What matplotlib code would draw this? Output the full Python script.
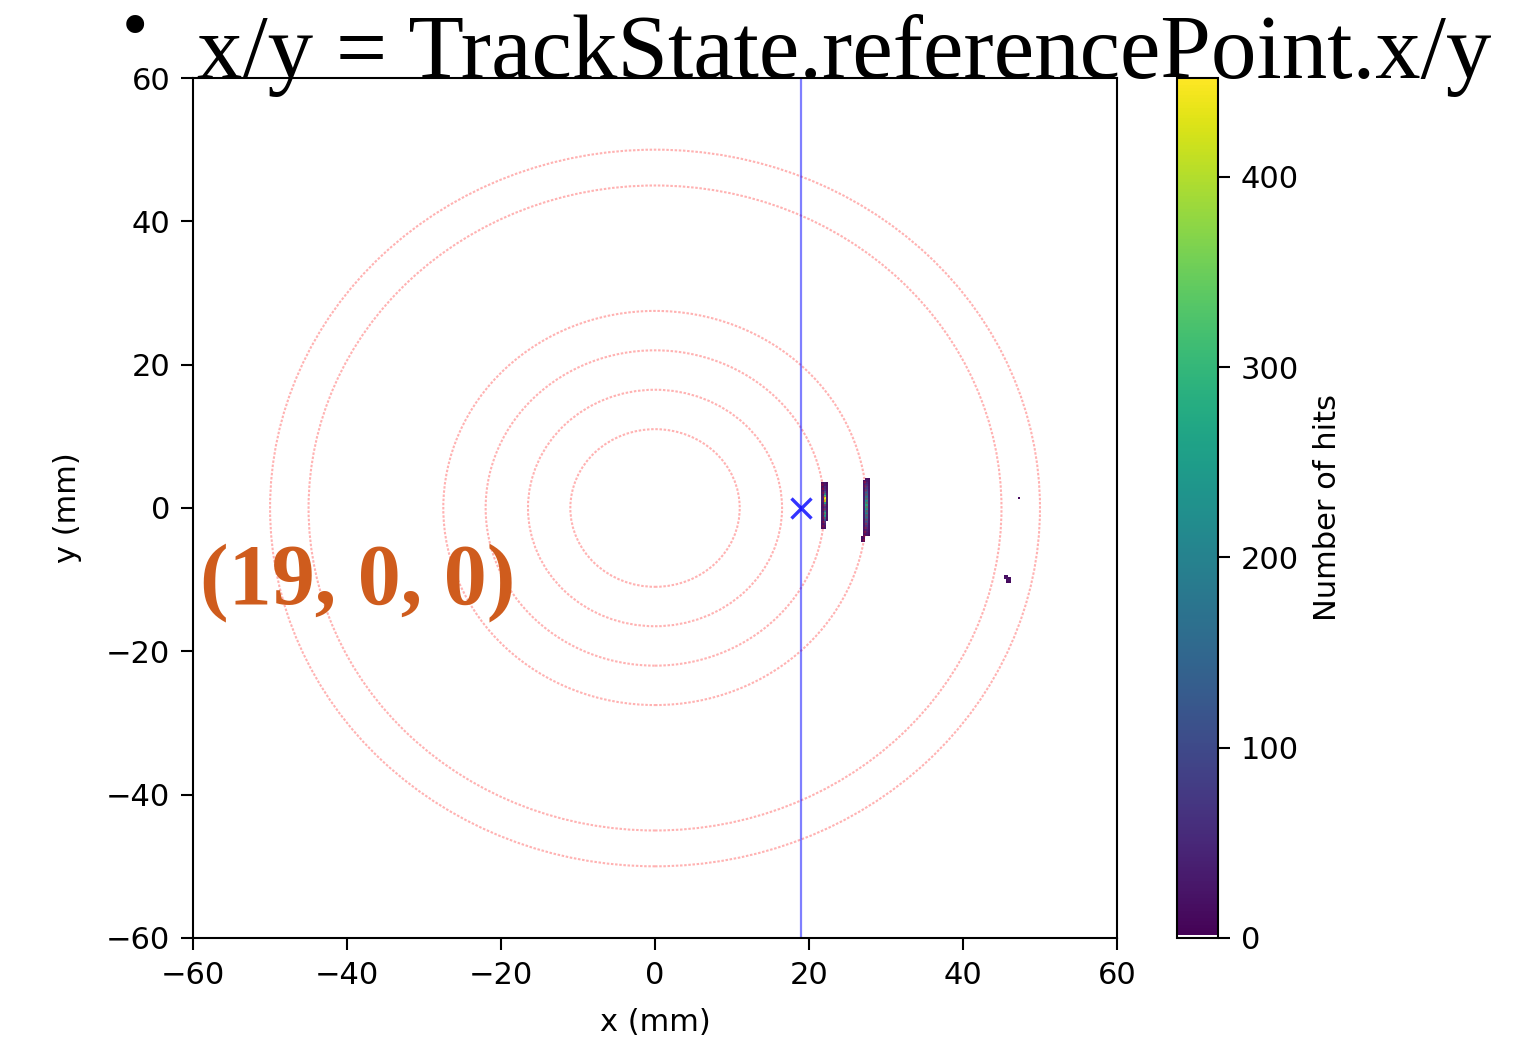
import numpy as np
import matplotlib
matplotlib.use("Agg")
import matplotlib.pyplot as plt
from matplotlib.colors import ListedColormap
from matplotlib.patches import Circle

# ---- data -----------------------------------------------------------------
# histogram binning (mm)
bin_edges = np.linspace(-60, 60, 401)

# inner cluster: column centres (mm), row centres (mm), counts [row][col]
inner_x = [21.75, 22.05, 22.35]
inner_y = [3.45, 3.15, 2.85, 2.55, 2.25, 1.95, 1.65, 1.35, 1.05, 0.75, 0.45,
           0.15, -0.15, -0.45, -0.75, -1.05, -1.35, -1.65, -1.95, -2.25,
           -2.55, -2.85]
inner_counts = [
    [15, 25, 12], [18, 30, 15], [20, 45, 18], [22, 60, 20], [25, 110, 22],
    [30, 200, 28], [35, 320, 30], [40, 452, 35], [38, 410, 32], [30, 260, 28],
    [25, 120, 22], [22, 70, 20], [25, 90, 22], [30, 160, 25], [35, 280, 30],
    [32, 240, 28], [28, 150, 25], [25, 110, 20], [22, 70, 0], [20, 40, 0],
    [18, 25, 0], [15, 18, 0],
]

# outer cluster
outer_x = [26.85, 27.15, 27.45, 27.75]
outer_y = [4.05, 3.75, 3.45, 3.15, 2.85, 2.55, 2.25, 1.95, 1.65, 1.35, 1.05,
           0.75, 0.45, 0.15, -0.15, -0.45, -0.75, -1.05, -1.35, -1.65, -1.95,
           -2.25, -2.55, -2.85, -3.15, -3.45, -3.75, -4.05, -4.35, -4.65]
outer_counts = [
    [0, 0, 20, 15], [0, 20, 30, 18], [0, 25, 45, 20], [0, 28, 60, 22],
    [0, 30, 80, 25], [0, 30, 100, 25], [0, 32, 130, 28], [0, 35, 150, 30],
    [0, 35, 170, 30], [0, 38, 190, 32], [0, 40, 220, 35], [0, 40, 250, 35],
    [0, 42, 270, 35], [0, 40, 260, 35], [0, 40, 230, 32], [0, 38, 210, 30],
    [0, 35, 190, 30], [0, 35, 170, 28], [0, 32, 150, 28], [0, 30, 130, 25],
    [0, 30, 110, 25], [0, 28, 90, 22], [0, 25, 70, 20], [0, 25, 55, 20],
    [0, 22, 40, 18], [0, 20, 30, 15], [0, 18, 22, 12], [15, 20, 0, 0],
    [15, 18, 0, 0], [12, 15, 0, 0],
]

# isolated hits: x, y, count
stray_x = [47.25, 45.45, 45.75, 45.45, 45.75, 46.05, 45.75, 46.05, 46.05, 45.75]
stray_y = [1.35, -9.45, -9.45, -9.75, -9.75, -9.75, -10.05, -10.05, -10.35, -10.35]
stray_w = [12, 15, 18, 20, 22, 15, 20, 18, 12, 10]

# detector layer radii (mm)
layer_radii = [11, 16.5, 22, 27.5, 45, 50]

# reference point
ref_x, ref_y = 19, 0

x_ticks = [-60, -40, -20, 0, 20, 40, 60]
y_ticks = [-60, -40, -20, 0, 20, 40, 60]
cbar_ticks = [0, 100, 200, 300, 400]

# ---- assemble hits ----------------------------------------------------------
hx, hy, hw = [], [], []
for xs, ys, cnt in [(inner_x, inner_y, inner_counts), (outer_x, outer_y, outer_counts)]:
    for j, yv in enumerate(ys):
        for i, xv in enumerate(xs):
            if cnt[j][i] > 0:
                hx.append(xv); hy.append(yv); hw.append(cnt[j][i])
hx += stray_x; hy += stray_y; hw += stray_w

# viridis with empty bins shown as white
cols = plt.cm.viridis(np.linspace(0, 1, 256))
cols[0] = [1, 1, 1, 1]
cmap = ListedColormap(cols)

# ---- figure -----------------------------------------------------------------
fig = plt.figure(figsize=(15.36, 10.4), dpi=100)
ax = fig.add_axes([0.1257, 0.0981, 0.6015, 0.8269])
cax = fig.add_axes([0.7663, 0.0981, 0.0267, 0.8269])

h = ax.hist2d(hx, hy, bins=[bin_edges, bin_edges], weights=hw, cmap=cmap)

for r in layer_radii:
    ax.add_patch(Circle((0, 0), r, fill=False, ec="red", alpha=0.3,
                        ls=(0, (1.2, 0.8)), lw=1.5))

ax.axvline(ref_x, color="blue", alpha=0.5, lw=1.6)
ax.plot([ref_x], [ref_y], marker="x", color="blue", ms=14, mew=2.4, alpha=0.8)

ax.set_xlim(-60, 60)
ax.set_ylim(-60, 60)
ax.set_xticks(x_ticks)
ax.set_yticks(y_ticks)
ax.set_xlabel("x (mm)", fontsize=22, labelpad=13)
ax.set_ylabel("y (mm)", fontsize=22, labelpad=17)
ax.tick_params(labelsize=22, length=8.5, width=1.5, pad=8)
for s in ax.spines.values():
    s.set_linewidth(1.5)

cb = fig.colorbar(h[3], cax=cax)
cb.set_ticks(cbar_ticks)
cb.ax.tick_params(labelsize=22, length=8.5, width=1.5, pad=8)
cb.set_label("Number of hits", fontsize=22, labelpad=10)
cb.outline.set_linewidth(1.5)

# slide annotations
fig.text(0.0794, 0.970, "\u2022", fontsize=54, family="Liberation Serif",
         ha="left", va="center")
fig.text(0.128, 0.925, "x/y = TrackState.referencePoint.x/y", fontsize=65.5,
         family="Liberation Serif", ha="left", va="baseline")
fig.text(0.130, 0.420, "(19, 0, 0)", fontsize=62, family="Liberation Serif",
         weight="bold", color="#cf5c1d", ha="left", va="baseline")

fig.savefig("out.png", dpi=100)
